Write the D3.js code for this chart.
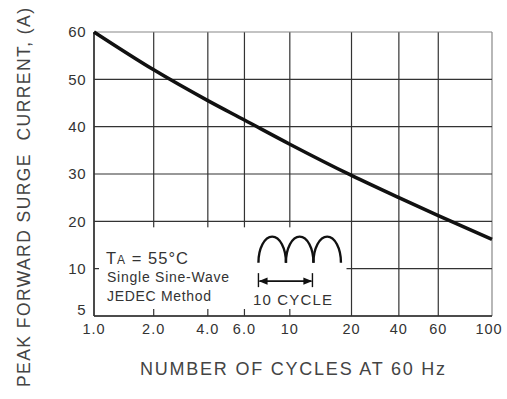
<!DOCTYPE html>
<meta charset="utf-8">
<style>
body { margin: 0; background: #fff; }
svg { display: block; font-family: "Liberation Sans", Arial, sans-serif; }
</style>
<svg width="507" height="399"></svg>
<script src="https://d3js.org/d3.v7.min.js"></script>
<script>

// x: number of cycles, y: peak surge current (A)
var xTicks = [1, 2, 4, 6, 10, 20, 40, 60, 100];
var xTickLabels = ["1.0", "2.0", "4.0", "6.0", "10", "20", "40", "60", "100"];
var yTicks = [5, 10, 20, 30, 40, 50, 60];
var cycles = [1, 2, 4, 6, 10, 20, 40, 60, 100];
var amps = [60, 52, 45.5, 41.4, 36.3, 29.7, 25, 21.2, 16.2];

var svg = d3.select("svg"),
    margin = {top: 32, right: 15, bottom: 83, left: 94},
    width = +svg.attr("width") - margin.left - margin.right,
    height = +svg.attr("height") - margin.top - margin.bottom,
    g = svg.append("g").attr("transform", "translate(" + margin.left + "," + margin.top + ")");

// the printed log grid is hand drawn, so the decades are not quite even;
// where each gridline falls as a share of the plot width
var xGridShare = [0, 0.150, 0.286, 0.378, 0.492, 0.647, 0.766, 0.865, 1];

var x = d3.scaleLinear()
    .domain(xTicks.map(Math.log10))
    .range(xGridShare.map(function(f) { return f * width; }));
function xc(v) { return x(Math.log10(v)); }

// y ticks are spaced evenly, not by value
var y = d3.scaleLinear()
    .domain(yTicks)
    .range(yTicks.map(function(d, i) { return height - i * height / (yTicks.length - 1); }));

var gridColor = "#333", edgeColor = "#888";

// vertical grid
g.selectAll(".vgrid")
  .data(xTicks)
  .enter().append("line")
    .attr("x1", xc)
    .attr("x2", xc)
    .attr("y1", 0)
    .attr("y2", height)
    .attr("stroke", function(d, i) { return i == xTicks.length - 1 ? edgeColor : gridColor; })
    .attr("stroke-width", 1.2);

// horizontal grid
g.selectAll(".hgrid")
  .data(yTicks)
  .enter().append("line")
    .attr("x1", 0)
    .attr("x2", width)
    .attr("y1", function(d) { return y(d); })
    .attr("y2", function(d) { return y(d); })
    .attr("stroke", function(d, i) { return i == yTicks.length - 1 ? edgeColor : gridColor; })
    .attr("stroke-width", 1.2);

// clear the grid behind the notes (leaves the short stubs)
g.append("rect")
    .attr("x", 5)
    .attr("y", y(20) + 6)
    .attr("width", xc(20) - 5 - 5)
    .attr("height", height - 7 - y(20) - 6)
    .attr("fill", "#fff");

// left and bottom edges
g.append("line").attr("x1", 0).attr("x2", 0).attr("y1", 0).attr("y2", height)
    .attr("stroke", gridColor).attr("stroke-width", 1.4);
g.append("line").attr("x1", 0).attr("x2", width).attr("y1", height).attr("y2", height)
    .attr("stroke", gridColor).attr("stroke-width", 1.4);

// tick labels
g.selectAll(".xlab")
  .data(xTicks)
  .enter().append("text")
    .attr("x", function(d, i) { return xc(d) - (i == xTicks.length - 1 ? 3 : 0); })
    .attr("y", height + 18)
    .attr("text-anchor", "middle")
    .style("font-size", "14.5px")
    .style("fill", "#333")
    .style("letter-spacing", "1px")
    .text(function(d, i) { return xTickLabels[i]; });

g.selectAll(".ylab")
  .data(yTicks)
  .enter().append("text")
    .attr("x", -8)
    .attr("y", function(d) { return Math.min(y(d), height - 6); })
    .attr("dy", "0.36em")
    .attr("text-anchor", "end")
    .style("font-size", "15px")
    .style("fill", "#333")
    .style("letter-spacing", "0.5px")
    .text(function(d) { return d; });

// curve
var line = d3.line()
    .x(function(d) { return xc(d[0]); })
    .y(function(d) { return y(d[1]); })
    .curve(d3.curveMonotoneX);

g.append("path")
    .datum(d3.zip(cycles, amps))
    .attr("d", line)
    .attr("fill", "none")
    .attr("stroke", "#111")
    .attr("stroke-width", 3.5);

// notes
var note = g.append("g").attr("transform", "translate(12," + (y(20) + 43) + ")")
    .style("fill", "#333");
var ta = note.append("text").style("font-size", "16.5px")
    .attr("textLength", 82).attr("lengthAdjust", "spacing");
ta.append("tspan").text("T");
ta.append("tspan").style("font-size", "12px").text("A");
ta.append("tspan").text(" = 55\u00b0C");
note.append("text").attr("x", 1).attr("y", 18).style("font-size", "14px")
    .attr("textLength", 122).attr("lengthAdjust", "spacing")
    .text("Single Sine-Wave");
note.append("text").attr("x", 1).attr("y", 37).style("font-size", "14px")
    .attr("textLength", 104).attr("lengthAdjust", "spacing")
    .text("JEDEC Method");

// half-wave icon
var hump = 27.5, humpH = 26, ix = xc(6) + 14, iy = y(20) + 41.3;
var icon = g.append("g").attr("transform", "translate(" + ix + "," + iy + ")");
icon.selectAll("path")
  .data(d3.range(3))
  .enter().append("path")
    .attr("d", function(i) {
      var a = i * hump, b = a + hump;
      return "M" + a + ",0 A" + (hump / 2) + "," + humpH + " 0 0 1 " + b + ",0";
    })
    .attr("fill", "none")
    .attr("stroke", "#111")
    .attr("stroke-width", 2.4);

svg.append("defs").append("marker")
    .attr("id", "arr")
    .attr("viewBox", "0 0 10 10")
    .attr("refX", 9).attr("refY", 5)
    .attr("markerWidth", 5).attr("markerHeight", 5)
    .attr("orient", "auto-start-reverse")
  .append("path")
    .attr("d", "M0,1 L10,5 L0,9 z")
    .attr("fill", "#111");

icon.append("line").attr("x1", 0).attr("x2", 0).attr("y1", 10.5).attr("y2", 24.5)
    .attr("stroke", "#111").attr("stroke-width", 1.4);
icon.append("line").attr("x1", 54).attr("x2", 54).attr("y1", 10.5).attr("y2", 24.5)
    .attr("stroke", "#111").attr("stroke-width", 1.4);
icon.append("line").attr("x1", 1).attr("x2", 53).attr("y1", 18.5).attr("y2", 18.5)
    .attr("stroke", "#111").attr("stroke-width", 1.8)
    .attr("marker-start", "url(#arr)")
    .attr("marker-end", "url(#arr)");
icon.append("text")
    .attr("x", 34).attr("y", 42.3)
    .attr("text-anchor", "middle")
    .style("font-size", "15px")
    .style("fill", "#333")
    .attr("textLength", 79).attr("lengthAdjust", "spacing")
    .text("10 CYCLE");

// axis titles
svg.append("text")
    .attr("x", 292.5)
    .attr("y", 375)
    .attr("text-anchor", "middle")
    .style("font-size", "18px")
    .style("fill", "#444")
    .attr("textLength", 305).attr("lengthAdjust", "spacing")
    .text("NUMBER OF CYCLES AT 60 Hz");

svg.append("text")
    .attr("transform", "translate(30,197.5) rotate(-90)")
    .attr("text-anchor", "middle")
    .style("font-size", "17.5px")
    .style("fill", "#444")
    .style("white-space", "pre")
    .attr("textLength", 379).attr("lengthAdjust", "spacing")
    .text("PEAK FORWARD SURGE  CURRENT, (A)");

</script>
